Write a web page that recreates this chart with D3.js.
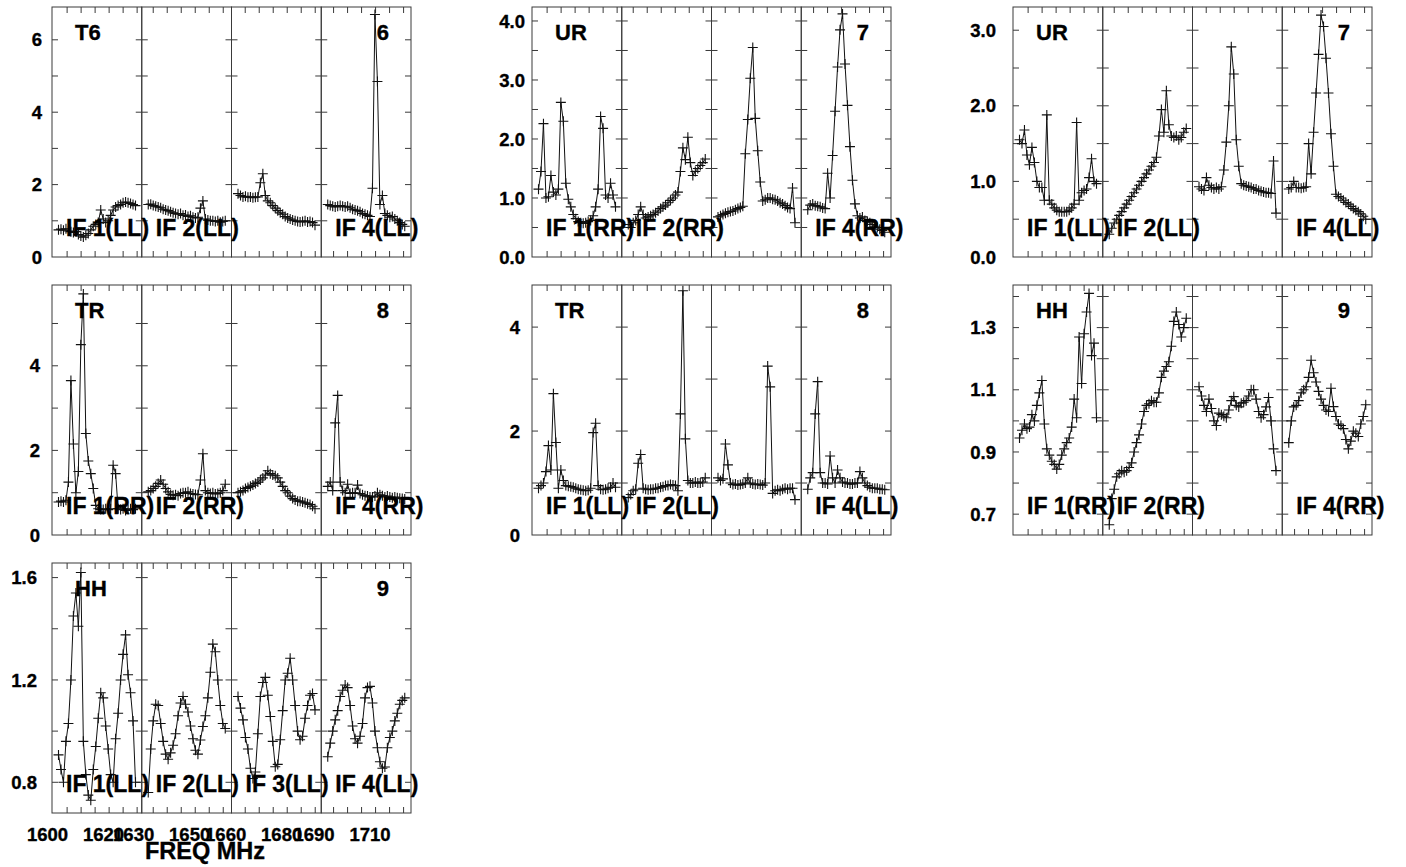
<!DOCTYPE html>
<html><head><meta charset="utf-8">
<script src="https://cdn.jsdelivr.net/npm/d3@7"></script>
<style>
body{margin:0;background:#fff}
svg{display:block}
text{font-family:"Liberation Sans",Arial,Helvetica,sans-serif;font-weight:bold;fill:#000;stroke:#000;stroke-width:0.35px}
</style></head>
<body><svg id="c" width="1406" height="867"></svg>
<script>
// ---------------- data ----------------
const sources  = ["T6","UR","UR","TR","TR","HH","HH"];
const antennas = ["6","7","7","8","8","9","9"];
const pols     = ["LL","RR","LL","RR","LL","RR","LL"];
const ifShown  = [[1,2,4],[1,2,4],[1,2,4],[1,2,4],[1,2,4],[1,2,4],[1,2,3,4]];
const yDomains = [[0,6.906],[0,4.237],[0,3.307],[0,5.91],[0,4.81],[0.633,1.437],[0.68,1.657]];
const yMajor   = [[0,2,4,6],[0,1,2,3,4],[0,1,2,3],[0,2,4],[0,2,4],[0.7,0.9,1.1,1.3],[0.8,1.2,1.6]];
const yMinorStep = [1,0.5,0.5,1,1,0.1,0.2];
const yFmt     = ["d",".1f",".1f","d","d",".1f",".1f"];
const ifStart  = [1594.6,1625.9,1655.1,1685.6];
const ifSpan   = 32.05;
const freqLabels = [[1600,1620],[1630,1650],[1660,1680],[1690,1710]];
const xTitle = "FREQ MHz";

const t6_LL = [
 [0.75,0.77,0.74,0.78,0.72,0.7,0.68,0.7,0.62,0.58,0.55,0.6,0.65,0.75,0.85,0.9,0.95,1.3,1.05,0.95,1.0,1.15,1.3,1.38,1.42,1.45,1.5,1.52,1.5,1.48,1.45,1.42],
 [1.45,1.46,1.42,1.4,1.38,1.36,1.32,1.3,1.28,1.25,1.22,1.2,1.18,1.2,1.15,1.16,1.12,1.14,1.1,1.08,1.1,1.35,1.55,1.05,1.02,1.0,1.0,0.98,1.0,0.96,0.98,1.0],
 [1.75,1.7,1.66,1.68,1.65,1.66,1.64,1.65,1.66,2.05,2.3,1.7,1.55,1.5,1.42,1.35,1.28,1.22,1.18,1.12,1.08,1.05,1.02,1.0,0.98,0.97,0.98,1.0,0.97,0.98,0.95,0.88],
 [1.45,1.42,1.4,1.38,1.4,1.42,1.4,1.38,1.4,1.36,1.32,1.3,1.28,1.25,1.2,1.18,1.15,1.12,1.9,6.7,4.85,1.45,1.7,1.2,1.15,1.1,1.12,1.05,1.0,0.95,0.9,0.85]];
const ur_RR = [
 [1.15,1.45,2.26,1.0,1.02,1.38,1.1,1.05,1.15,2.62,2.3,1.25,0.98,0.85,0.72,0.65,0.6,0.58,0.57,0.58,0.6,0.62,0.7,0.85,1.15,2.38,2.18,1.05,1.0,1.25,1.05,0.85],
 [0.55,0.5,0.58,0.62,0.72,0.85,0.72,0.66,0.68,0.7,0.72,0.75,0.78,0.82,0.85,0.88,0.92,0.96,1.0,1.05,1.1,1.45,1.85,1.65,2.03,1.6,1.38,1.45,1.5,1.55,1.6,1.66],
 [0.68,0.7,0.72,0.74,0.76,0.77,0.78,0.8,0.82,0.84,0.86,1.75,2.33,3.03,3.55,2.35,1.8,1.27,0.95,0.97,1.0,1.0,0.98,0.97,0.95,0.92,0.9,0.87,0.84,0.82,1.17,0.58],
 [0.8,0.88,0.9,0.87,0.86,0.85,0.83,0.82,1.42,1.0,1.72,2.47,3.22,3.85,4.12,3.27,2.57,1.87,1.3,0.9,0.7,0.66,0.68,0.62,0.6,0.58,0.55,0.52,0.5,0.47,0.45,0.42]];
const ur_LL = [
 [1.55,1.5,1.68,1.35,1.22,1.45,1.25,1.0,0.92,0.92,0.75,1.88,0.75,0.7,0.65,0.62,0.6,0.6,0.6,0.6,0.62,0.65,0.7,1.78,0.75,0.85,0.88,0.9,1.05,1.3,1.0,0.97],
 [0.3,0.38,0.45,0.5,0.55,0.6,0.65,0.7,0.75,0.8,0.85,0.9,0.95,1.0,1.05,1.1,1.15,1.2,1.25,1.32,1.6,1.95,1.65,2.2,1.75,1.6,1.58,1.6,1.55,1.58,1.65,1.7],
 [0.93,0.9,0.88,1.05,0.95,0.92,0.9,0.92,0.9,0.93,1.15,1.52,2.0,2.78,2.42,1.55,1.2,0.97,0.95,0.94,0.93,0.92,0.9,0.9,0.88,0.87,0.86,0.85,0.85,0.84,1.27,0.58],
 [0.9,0.92,1.0,0.92,0.92,0.91,0.92,0.93,1.5,1.1,1.65,2.17,2.68,3.2,3.05,2.63,2.17,1.63,1.2,0.83,0.8,0.78,0.75,0.72,0.7,0.67,0.64,0.62,0.6,0.57,0.54,0.5]];
const tr_RR = [
 [0.78,0.8,0.78,0.82,1.25,3.65,2.15,1.0,1.5,4.5,5.7,2.4,1.75,1.45,1.1,0.7,0.62,0.6,0.6,0.62,0.6,0.62,1.65,1.45,0.62,0.6,0.62,0.58,0.6,0.62,0.6,0.62],
 [1.02,1.05,1.1,1.15,1.22,1.3,1.2,1.1,1.02,0.96,0.94,0.95,0.93,0.98,1.0,1.0,1.02,0.98,0.97,0.96,0.95,1.3,1.92,1.05,1.0,0.98,1.0,0.97,0.98,1.0,1.05,1.2],
 [1.0,1.02,1.05,1.1,1.12,1.15,1.18,1.22,1.25,1.3,1.35,1.42,1.52,1.45,1.42,1.4,1.35,1.25,1.15,1.05,1.0,0.92,0.86,0.83,0.8,0.8,0.78,0.76,0.74,0.72,0.68,0.62],
 [1.15,1.25,1.05,2.65,3.3,1.25,1.05,1.0,1.2,0.98,1.0,1.0,1.18,0.98,0.95,0.93,0.92,0.9,0.9,0.92,1.0,0.95,0.93,0.9,0.92,0.9,0.88,0.9,0.88,0.87,0.86,0.85]];
const tr_LL = [
 [0.9,0.95,1.0,1.22,1.72,1.25,2.72,1.78,0.9,1.25,1.05,0.95,0.94,0.93,0.92,0.9,0.88,0.87,0.86,0.85,0.86,0.9,1.97,2.15,0.95,0.88,0.87,0.88,0.9,0.92,1.0,0.92],
 [0.72,0.78,0.85,0.88,1.38,1.55,0.9,0.88,0.87,0.88,0.88,0.9,0.9,0.92,0.93,0.95,0.95,0.97,0.96,0.95,0.85,2.33,4.7,1.85,1.05,1.0,1.0,1.02,1.0,1.0,1.02,1.1],
 [1.1,1.05,1.08,1.75,1.35,1.0,0.97,0.98,0.96,0.97,0.98,1.0,1.1,1.0,0.98,0.97,0.98,0.97,0.96,1.0,3.25,2.85,0.8,0.85,0.87,0.85,0.88,0.9,0.88,0.9,0.9,0.68],
 [0.88,1.1,1.2,2.33,2.95,1.2,1.0,1.0,0.98,1.52,1.1,1.0,1.25,1.1,1.02,1.0,1.0,0.98,0.98,1.0,1.0,1.22,1.1,1.0,0.95,0.92,0.9,0.9,0.9,0.88,0.88,0.87]];
const hh_RR = [
 [0.945,0.97,0.99,0.975,0.98,1.02,1.0,1.05,1.09,1.13,0.99,0.91,0.89,0.87,0.86,0.845,0.86,0.89,0.91,0.93,0.945,0.98,1.07,1.01,1.27,1.12,1.28,1.35,1.41,1.21,1.25,1.01],
 [0.666,0.75,0.78,0.82,0.83,0.84,0.835,0.84,0.85,0.865,0.9,0.93,0.955,0.99,1.03,1.05,1.055,1.065,1.06,1.06,1.09,1.14,1.16,1.175,1.19,1.24,1.32,1.35,1.31,1.27,1.3,1.33],
 [1.11,1.08,1.05,1.03,1.07,1.04,1.0,0.985,1.025,1.02,1.015,1.01,1.035,1.065,1.078,1.05,1.045,1.057,1.06,1.065,1.08,1.1,1.1,1.07,1.03,1.01,1.02,1.045,1.075,1.0,0.91,0.84],
 [0.93,1.0,1.045,1.05,1.065,1.09,1.1,1.11,1.14,1.195,1.155,1.125,1.095,1.07,1.05,1.035,1.03,1.105,1.046,1.014,0.99,0.985,0.975,0.94,0.91,0.935,0.967,0.96,0.95,0.99,1.014,1.052]];
const hh_LL = [
 [0.907,0.85,0.8,0.96,1.03,1.2,1.45,1.54,1.41,1.62,0.96,0.83,0.75,0.73,0.85,0.94,1.05,1.15,1.13,1.02,0.93,0.83,0.8,0.97,1.07,1.2,1.3,1.376,1.22,1.15,1.04,0.8],
 [0.76,0.93,1.04,1.105,1.1,1.03,0.96,0.91,0.89,0.915,0.945,0.99,1.06,1.11,1.135,1.105,1.075,1.02,0.97,0.925,0.91,0.965,1.018,1.06,1.13,1.23,1.34,1.31,1.2,1.1,1.03,1.01],
 [1.135,1.09,1.044,0.975,0.93,0.855,0.815,0.84,0.99,1.135,1.19,1.21,1.14,1.057,0.96,0.861,0.87,0.966,1.08,1.2,1.226,1.285,1.2,1.1,1.0,0.966,0.98,1.05,1.1,1.14,1.147,1.083],
 [0.9,0.953,1.0,1.044,1.08,1.135,1.16,1.18,1.17,1.1,1.02,0.97,0.953,0.98,1.03,1.13,1.17,1.175,1.11,1.0,0.935,0.88,0.855,0.86,0.935,0.975,1.0,1.04,1.07,1.105,1.12,1.13]];
const series = [t6_LL, ur_RR, ur_LL, tr_RR, tr_LL, hh_RR, hh_LL];

// ---------------- layout ----------------
const colLeft = [52, 532, 1013];
const rowTop  = [7, 285, 563];
const panelPos = [[0,0],[1,0],[2,0],[0,1],[1,1],[2,1],[0,2]];
const panelH = 250, subW = 89.75, nIF = 4;
const yLabGap = [10, 7, 17, 12, 12, 17, 15];
const frameCol = "#3a3a3a", tickLen = 6, inkCol = "#111";

const svg = d3.select("#c");

series.forEach((ifs, p) => {
  const left = colLeft[panelPos[p][0]], top = rowTop[panelPos[p][1]];
  const bottom = top + panelH, right = left + subW * nIF;
  const g = svg.append("g");
  const y = d3.scaleLinear().domain(yDomains[p]).range([bottom, top]);
  const [y0, y1] = yDomains[p];
  const st = yMinorStep[p];
  const minor = d3.range(Math.ceil(y0 / st - 1e-6) * st, y1 + 1e-9, st).map(v => +v.toFixed(4));

  for (let k = 0; k < nIF; k++) {
    const sl = left + k * subW, sr = sl + subW;
    g.append("rect").attr("x", sl).attr("y", top).attr("width", subW).attr("height", panelH)
      .attr("fill", "none").attr("stroke", frameCol).attr("stroke-width", 1);
    minor.forEach(v => {
      const yy = y(v);
      if (yy < top + 1 || yy > bottom - 1) return;
      g.append("line").attr("x1", sl).attr("x2", sl + tickLen).attr("y1", yy).attr("y2", yy).attr("stroke", frameCol);
      g.append("line").attr("x1", sr - tickLen).attr("x2", sr).attr("y1", yy).attr("y2", yy).attr("stroke", frameCol);
    });
    const fx = d3.scaleLinear().domain([ifStart[k], ifStart[k] + ifSpan]).range([sl, sr]);
    const ft = d3.range(Math.ceil(ifStart[k] / 5) * 5, ifStart[k] + ifSpan, 5);
    ft.forEach(f => {
      const xx = fx(f);
      if (xx < sl + 2 || xx > sr - 2) return;
      g.append("line").attr("x1", xx).attr("x2", xx).attr("y1", top).attr("y2", top + tickLen).attr("stroke", frameCol);
      g.append("line").attr("x1", xx).attr("x2", xx).attr("y1", bottom - tickLen).attr("y2", bottom).attr("stroke", frameCol);
    });
    if (p === 6) {
      freqLabels[k].forEach(f => {
        g.append("text").attr("x", fx(f) + 1).attr("y", bottom + 28).attr("text-anchor", "end")
          .attr("font-size", 18.5).text(f);
      });
    }
    const vals = ifs[k];
    const x = d3.scaleLinear().domain([0, vals.length - 1]).range([sl + 6.5, sl + 83.5]);
    g.append("path").datum(vals)
      .attr("d", d3.line().x((d, i) => x(i)).y(d => y(d)))
      .attr("fill", "none").attr("stroke", inkCol).attr("stroke-width", 1);
    g.selectAll(null).data(vals).enter().append("path")
      .attr("transform", (d, i) => `translate(${x(i)},${y(d)})`)
      .attr("d", "M-5,0H5M0,-5V5")
      .attr("stroke", inkCol).attr("stroke-width", 1.1).attr("fill", "none");
  }
  const fmt = d3.format(yFmt[p]);
  yMajor[p].forEach(v => {
    g.append("text").attr("x", left - yLabGap[p]).attr("y", y(v)).attr("dy", "0.36em")
      .attr("text-anchor", "end").attr("font-size", 18.5).text(fmt(v));
  });
  g.append("text").attr("x", left + 23).attr("y", top + 33).attr("font-size", 22).text(sources[p]);
  g.append("text").attr("x", right - 22).attr("y", top + 33).attr("text-anchor", "end").attr("font-size", 22).text(antennas[p]);
  ifShown[p].forEach(n => {
    g.append("text").attr("x", left + (n - 1) * subW + 14).attr("y", bottom - 21)
      .attr("font-size", 23).text(`IF ${n}(${pols[p]})`);
  });
  if (p === 6) {
    g.append("text").attr("x", left + 153).attr("y", bottom + 46).attr("text-anchor", "middle")
      .attr("font-size", 23.5).text(xTitle);
  }
});
</script></body></html>
